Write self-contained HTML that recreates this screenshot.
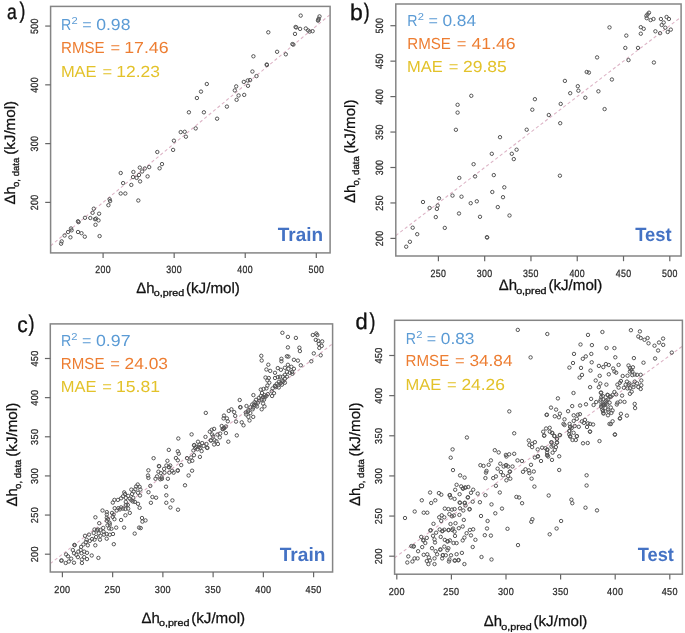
<!DOCTYPE html>
<html><head><meta charset="utf-8"><style>
html,body{margin:0;padding:0;background:#fff;overflow:hidden;}
svg{display:block;filter:blur(0.35px);}
</style></head><body>
<svg width="685" height="633" viewBox="0 0 685 633" font-family="'Liberation Sans', sans-serif" text-rendering="geometricPrecision">
<rect width="685" height="633" fill="#fff"/>
<g><clipPath id="cpa"><rect x="50.6" y="6.4" width="279.50" height="246.50"/></clipPath><line x1="50.6" y1="245.8" x2="330.1" y2="14.6" stroke="#ddb4c6" stroke-width="1.1" stroke-dasharray="3.2 2.5" clip-path="url(#cpa)"/><g fill="none" stroke="#555" stroke-width="1.0"><circle cx="61.1" cy="243.7" r="1.7"/><circle cx="61.7" cy="241.4" r="1.7"/><circle cx="64.6" cy="235.5" r="1.7"/><circle cx="68.1" cy="232.0" r="1.7"/><circle cx="71.0" cy="228.5" r="1.7"/><circle cx="71.6" cy="230.3" r="1.7"/><circle cx="70.4" cy="237.3" r="1.7"/><circle cx="78.0" cy="221.3" r="1.7"/><circle cx="78.6" cy="222.1" r="1.7"/><circle cx="78.0" cy="232.0" r="1.7"/><circle cx="81.5" cy="233.2" r="1.7"/><circle cx="84.8" cy="236.7" r="1.7"/><circle cx="85.0" cy="217.8" r="1.7"/><circle cx="90.3" cy="218.0" r="1.7"/><circle cx="92.6" cy="212.8" r="1.7"/><circle cx="93.8" cy="208.7" r="1.7"/><circle cx="95.0" cy="219.2" r="1.7"/><circle cx="96.1" cy="218.6" r="1.7"/><circle cx="98.5" cy="220.4" r="1.7"/><circle cx="99.1" cy="213.7" r="1.7"/><circle cx="95.5" cy="224.8" r="1.7"/><circle cx="99.6" cy="236.1" r="1.7"/><circle cx="108.4" cy="205.2" r="1.7"/><circle cx="109.6" cy="199.3" r="1.7"/><circle cx="110.1" cy="201.1" r="1.7"/><circle cx="120.7" cy="193.5" r="1.7"/><circle cx="125.3" cy="193.5" r="1.7"/><circle cx="123.1" cy="183.1" r="1.7"/><circle cx="120.7" cy="173.0" r="1.7"/><circle cx="131.3" cy="184.9" r="1.7"/><circle cx="133.4" cy="172.0" r="1.7"/><circle cx="133.0" cy="177.1" r="1.7"/><circle cx="136.6" cy="177.9" r="1.7"/><circle cx="139.0" cy="175.0" r="1.7"/><circle cx="140.1" cy="181.4" r="1.7"/><circle cx="139.8" cy="167.6" r="1.7"/><circle cx="142.1" cy="171.5" r="1.7"/><circle cx="144.8" cy="168.5" r="1.7"/><circle cx="147.6" cy="176.4" r="1.7"/><circle cx="149.2" cy="167.1" r="1.7"/><circle cx="157.3" cy="152.0" r="1.7"/><circle cx="159.6" cy="168.3" r="1.7"/><circle cx="162.0" cy="164.1" r="1.7"/><circle cx="173.1" cy="149.9" r="1.7"/><circle cx="173.9" cy="140.7" r="1.7"/><circle cx="180.7" cy="132.1" r="1.7"/><circle cx="184.7" cy="131.8" r="1.7"/><circle cx="185.9" cy="136.7" r="1.7"/><circle cx="138.3" cy="200.5" r="1.7"/><circle cx="195.7" cy="128.4" r="1.7"/><circle cx="188.9" cy="112.3" r="1.7"/><circle cx="203.9" cy="112.3" r="1.7"/><circle cx="196.9" cy="98.0" r="1.7"/><circle cx="201.0" cy="91.6" r="1.7"/><circle cx="206.8" cy="84.0" r="1.7"/><circle cx="217.1" cy="118.7" r="1.7"/><circle cx="226.9" cy="106.6" r="1.7"/><circle cx="236.6" cy="99.8" r="1.7"/><circle cx="238.6" cy="95.5" r="1.7"/><circle cx="244.2" cy="94.9" r="1.7"/><circle cx="234.8" cy="90.4" r="1.7"/><circle cx="236.2" cy="86.4" r="1.7"/><circle cx="243.8" cy="81.9" r="1.7"/><circle cx="248.0" cy="85.8" r="1.7"/><circle cx="247.7" cy="80.5" r="1.7"/><circle cx="250.1" cy="80.1" r="1.7"/><circle cx="256.5" cy="76.1" r="1.7"/><circle cx="252.4" cy="71.5" r="1.7"/><circle cx="253.4" cy="56.3" r="1.7"/><circle cx="266.7" cy="64.5" r="1.7"/><circle cx="266.9" cy="65.0" r="1.7"/><circle cx="277.1" cy="51.8" r="1.7"/><circle cx="285.8" cy="54.3" r="1.7"/><circle cx="292.4" cy="44.1" r="1.7"/><circle cx="293.4" cy="44.6" r="1.7"/><circle cx="295.0" cy="33.9" r="1.7"/><circle cx="295.6" cy="27.0" r="1.7"/><circle cx="296.3" cy="27.4" r="1.7"/><circle cx="300.1" cy="28.9" r="1.7"/><circle cx="305.8" cy="28.5" r="1.7"/><circle cx="308.1" cy="30.4" r="1.7"/><circle cx="309.6" cy="31.6" r="1.7"/><circle cx="312.6" cy="31.2" r="1.7"/><circle cx="300.7" cy="15.6" r="1.7"/><circle cx="319.5" cy="16.4" r="1.7"/><circle cx="318.3" cy="19.8" r="1.7"/><circle cx="318.7" cy="18.7" r="1.7"/><circle cx="318.0" cy="20.6" r="1.7"/><circle cx="268.3" cy="32.3" r="1.7"/></g><rect x="50.6" y="6.4" width="279.50" height="246.50" fill="none" stroke="#858585" stroke-width="1.5"/><line x1="103.10" y1="252.9" x2="103.10" y2="258.10" stroke="#666" stroke-width="1.2"/><text transform="translate(103.10,273.0) scale(0.84,1)" font-size="10.5" text-anchor="middle" letter-spacing="0.4" fill="#2a2a2a" stroke="#2a2a2a" stroke-width="0.25">200</text><line x1="174.17" y1="252.9" x2="174.17" y2="258.10" stroke="#666" stroke-width="1.2"/><text transform="translate(174.17,273.0) scale(0.84,1)" font-size="10.5" text-anchor="middle" letter-spacing="0.4" fill="#2a2a2a" stroke="#2a2a2a" stroke-width="0.25">300</text><line x1="245.23" y1="252.9" x2="245.23" y2="258.10" stroke="#666" stroke-width="1.2"/><text transform="translate(245.23,273.0) scale(0.84,1)" font-size="10.5" text-anchor="middle" letter-spacing="0.4" fill="#2a2a2a" stroke="#2a2a2a" stroke-width="0.25">400</text><line x1="316.30" y1="252.9" x2="316.30" y2="258.10" stroke="#666" stroke-width="1.2"/><text transform="translate(316.30,273.0) scale(0.84,1)" font-size="10.5" text-anchor="middle" letter-spacing="0.4" fill="#2a2a2a" stroke="#2a2a2a" stroke-width="0.25">500</text><line x1="45.20" y1="202.40" x2="50.6" y2="202.40" stroke="#666" stroke-width="1.2"/><text transform="translate(38.0,202.40) rotate(-90) scale(0.84,1)" font-size="10.5" text-anchor="middle" letter-spacing="0.4" fill="#2a2a2a" stroke="#2a2a2a" stroke-width="0.25">200</text><line x1="45.20" y1="143.62" x2="50.6" y2="143.62" stroke="#666" stroke-width="1.2"/><text transform="translate(38.0,143.62) rotate(-90) scale(0.84,1)" font-size="10.5" text-anchor="middle" letter-spacing="0.4" fill="#2a2a2a" stroke="#2a2a2a" stroke-width="0.25">300</text><line x1="45.20" y1="84.84" x2="50.6" y2="84.84" stroke="#666" stroke-width="1.2"/><text transform="translate(38.0,84.84) rotate(-90) scale(0.84,1)" font-size="10.5" text-anchor="middle" letter-spacing="0.4" fill="#2a2a2a" stroke="#2a2a2a" stroke-width="0.25">400</text><line x1="45.20" y1="26.06" x2="50.6" y2="26.06" stroke="#666" stroke-width="1.2"/><text transform="translate(38.0,26.06) rotate(-90) scale(0.84,1)" font-size="10.5" text-anchor="middle" letter-spacing="0.4" fill="#2a2a2a" stroke="#2a2a2a" stroke-width="0.25">500</text></g>
<g><clipPath id="cpb"><rect x="395.8" y="4.0" width="285.30" height="252.00"/></clipPath><line x1="395.8" y1="235.6" x2="681.1" y2="17.0" stroke="#ddb4c6" stroke-width="1.1" stroke-dasharray="3.2 2.5" clip-path="url(#cpb)"/><g fill="none" stroke="#555" stroke-width="1.0"><circle cx="406.2" cy="246.7" r="1.7"/><circle cx="409.9" cy="241.8" r="1.7"/><circle cx="412.7" cy="227.7" r="1.7"/><circle cx="417.2" cy="234.2" r="1.7"/><circle cx="423.0" cy="202.0" r="1.7"/><circle cx="429.6" cy="208.0" r="1.7"/><circle cx="435.8" cy="217.1" r="1.7"/><circle cx="436.9" cy="208.9" r="1.7"/><circle cx="437.7" cy="205.5" r="1.7"/><circle cx="439.0" cy="198.3" r="1.7"/><circle cx="444.8" cy="227.9" r="1.7"/><circle cx="452.5" cy="195.6" r="1.7"/><circle cx="459.3" cy="177.9" r="1.7"/><circle cx="459.0" cy="213.5" r="1.7"/><circle cx="461.5" cy="196.7" r="1.7"/><circle cx="470.7" cy="203.2" r="1.7"/><circle cx="473.6" cy="164.2" r="1.7"/><circle cx="475.1" cy="176.4" r="1.7"/><circle cx="476.8" cy="201.3" r="1.7"/><circle cx="480.0" cy="216.8" r="1.7"/><circle cx="491.8" cy="153.8" r="1.7"/><circle cx="500.0" cy="137.2" r="1.7"/><circle cx="493.8" cy="175.1" r="1.7"/><circle cx="492.3" cy="192.0" r="1.7"/><circle cx="504.3" cy="187.3" r="1.7"/><circle cx="503.0" cy="197.2" r="1.7"/><circle cx="497.8" cy="207.1" r="1.7"/><circle cx="509.5" cy="215.5" r="1.7"/><circle cx="486.9" cy="237.2" r="1.7"/><circle cx="487.2" cy="237.5" r="1.7"/><circle cx="511.8" cy="153.8" r="1.7"/><circle cx="516.6" cy="149.7" r="1.7"/><circle cx="513.8" cy="159.1" r="1.7"/><circle cx="526.7" cy="129.7" r="1.7"/><circle cx="532.3" cy="109.7" r="1.7"/><circle cx="534.9" cy="99.2" r="1.7"/><circle cx="548.8" cy="115.0" r="1.7"/><circle cx="560.2" cy="123.2" r="1.7"/><circle cx="560.7" cy="103.9" r="1.7"/><circle cx="564.9" cy="80.9" r="1.7"/><circle cx="570.2" cy="93.2" r="1.7"/><circle cx="577.8" cy="86.2" r="1.7"/><circle cx="578.4" cy="90.7" r="1.7"/><circle cx="585.3" cy="97.7" r="1.7"/><circle cx="586.7" cy="72.0" r="1.7"/><circle cx="588.9" cy="72.6" r="1.7"/><circle cx="598.4" cy="91.3" r="1.7"/><circle cx="597.1" cy="57.4" r="1.7"/><circle cx="611.9" cy="79.5" r="1.7"/><circle cx="609.5" cy="27.4" r="1.7"/><circle cx="625.3" cy="47.9" r="1.7"/><circle cx="626.3" cy="35.6" r="1.7"/><circle cx="628.5" cy="60.1" r="1.7"/><circle cx="638.0" cy="47.9" r="1.7"/><circle cx="640.8" cy="33.7" r="1.7"/><circle cx="640.8" cy="27.2" r="1.7"/><circle cx="643.7" cy="28.8" r="1.7"/><circle cx="653.9" cy="62.5" r="1.7"/><circle cx="646.4" cy="15.8" r="1.7"/><circle cx="647.6" cy="14.3" r="1.7"/><circle cx="649.0" cy="12.7" r="1.7"/><circle cx="646.7" cy="18.2" r="1.7"/><circle cx="650.6" cy="20.1" r="1.7"/><circle cx="653.5" cy="19.0" r="1.7"/><circle cx="655.4" cy="31.3" r="1.7"/><circle cx="660.1" cy="33.2" r="1.7"/><circle cx="660.9" cy="19.0" r="1.7"/><circle cx="661.7" cy="25.0" r="1.7"/><circle cx="663.7" cy="22.5" r="1.7"/><circle cx="665.3" cy="27.7" r="1.7"/><circle cx="666.6" cy="17.0" r="1.7"/><circle cx="668.9" cy="19.0" r="1.7"/><circle cx="667.7" cy="32.0" r="1.7"/><circle cx="670.8" cy="29.6" r="1.7"/><circle cx="471.3" cy="95.8" r="1.7"/><circle cx="457.6" cy="104.8" r="1.7"/><circle cx="457.6" cy="112.6" r="1.7"/><circle cx="455.9" cy="129.8" r="1.7"/><circle cx="559.9" cy="175.7" r="1.7"/><circle cx="604.6" cy="109.1" r="1.7"/></g><rect x="395.8" y="4.0" width="285.30" height="252.00" fill="none" stroke="#858585" stroke-width="1.5"/><line x1="438.40" y1="256.0" x2="438.40" y2="261.20" stroke="#666" stroke-width="1.2"/><text transform="translate(438.40,276.9) scale(0.84,1)" font-size="10.5" text-anchor="middle" letter-spacing="0.4" fill="#2a2a2a" stroke="#2a2a2a" stroke-width="0.25">250</text><line x1="484.68" y1="256.0" x2="484.68" y2="261.20" stroke="#666" stroke-width="1.2"/><text transform="translate(484.68,276.9) scale(0.84,1)" font-size="10.5" text-anchor="middle" letter-spacing="0.4" fill="#2a2a2a" stroke="#2a2a2a" stroke-width="0.25">300</text><line x1="530.96" y1="256.0" x2="530.96" y2="261.20" stroke="#666" stroke-width="1.2"/><text transform="translate(530.96,276.9) scale(0.84,1)" font-size="10.5" text-anchor="middle" letter-spacing="0.4" fill="#2a2a2a" stroke="#2a2a2a" stroke-width="0.25">350</text><line x1="577.24" y1="256.0" x2="577.24" y2="261.20" stroke="#666" stroke-width="1.2"/><text transform="translate(577.24,276.9) scale(0.84,1)" font-size="10.5" text-anchor="middle" letter-spacing="0.4" fill="#2a2a2a" stroke="#2a2a2a" stroke-width="0.25">400</text><line x1="623.52" y1="256.0" x2="623.52" y2="261.20" stroke="#666" stroke-width="1.2"/><text transform="translate(623.52,276.9) scale(0.84,1)" font-size="10.5" text-anchor="middle" letter-spacing="0.4" fill="#2a2a2a" stroke="#2a2a2a" stroke-width="0.25">450</text><line x1="669.80" y1="256.0" x2="669.80" y2="261.20" stroke="#666" stroke-width="1.2"/><text transform="translate(669.80,276.9) scale(0.84,1)" font-size="10.5" text-anchor="middle" letter-spacing="0.4" fill="#2a2a2a" stroke="#2a2a2a" stroke-width="0.25">500</text><line x1="390.40" y1="238.40" x2="395.8" y2="238.40" stroke="#666" stroke-width="1.2"/><text transform="translate(382.6,238.40) rotate(-90) scale(0.84,1)" font-size="10.5" text-anchor="middle" letter-spacing="0.4" fill="#2a2a2a" stroke="#2a2a2a" stroke-width="0.25">200</text><line x1="390.40" y1="202.95" x2="395.8" y2="202.95" stroke="#666" stroke-width="1.2"/><text transform="translate(382.6,202.95) rotate(-90) scale(0.84,1)" font-size="10.5" text-anchor="middle" letter-spacing="0.4" fill="#2a2a2a" stroke="#2a2a2a" stroke-width="0.25">250</text><line x1="390.40" y1="167.50" x2="395.8" y2="167.50" stroke="#666" stroke-width="1.2"/><text transform="translate(382.6,167.50) rotate(-90) scale(0.84,1)" font-size="10.5" text-anchor="middle" letter-spacing="0.4" fill="#2a2a2a" stroke="#2a2a2a" stroke-width="0.25">300</text><line x1="390.40" y1="132.05" x2="395.8" y2="132.05" stroke="#666" stroke-width="1.2"/><text transform="translate(382.6,132.05) rotate(-90) scale(0.84,1)" font-size="10.5" text-anchor="middle" letter-spacing="0.4" fill="#2a2a2a" stroke="#2a2a2a" stroke-width="0.25">350</text><line x1="390.40" y1="96.60" x2="395.8" y2="96.60" stroke="#666" stroke-width="1.2"/><text transform="translate(382.6,96.60) rotate(-90) scale(0.84,1)" font-size="10.5" text-anchor="middle" letter-spacing="0.4" fill="#2a2a2a" stroke="#2a2a2a" stroke-width="0.25">400</text><line x1="390.40" y1="61.15" x2="395.8" y2="61.15" stroke="#666" stroke-width="1.2"/><text transform="translate(382.6,61.15) rotate(-90) scale(0.84,1)" font-size="10.5" text-anchor="middle" letter-spacing="0.4" fill="#2a2a2a" stroke="#2a2a2a" stroke-width="0.25">450</text><line x1="390.40" y1="25.70" x2="395.8" y2="25.70" stroke="#666" stroke-width="1.2"/><text transform="translate(382.6,25.70) rotate(-90) scale(0.84,1)" font-size="10.5" text-anchor="middle" letter-spacing="0.4" fill="#2a2a2a" stroke="#2a2a2a" stroke-width="0.25">500</text></g>
<g><clipPath id="cpc"><rect x="50.3" y="323.9" width="282.30" height="248.10"/></clipPath><line x1="50.3" y1="563.6" x2="332.6" y2="343.7" stroke="#ddb4c6" stroke-width="1.1" stroke-dasharray="3.2 2.5" clip-path="url(#cpc)"/><g fill="none" stroke="#555" stroke-width="1.0"><circle cx="61.3" cy="560.7" r="1.7"/><circle cx="61.6" cy="560.4" r="1.7"/><circle cx="65.7" cy="563.0" r="1.7"/><circle cx="66.1" cy="554.4" r="1.7"/><circle cx="68.0" cy="556.3" r="1.7"/><circle cx="68.8" cy="561.5" r="1.7"/><circle cx="71.2" cy="558.7" r="1.7"/><circle cx="74.0" cy="562.7" r="1.7"/><circle cx="72.8" cy="550.0" r="1.7"/><circle cx="74.4" cy="544.9" r="1.7"/><circle cx="74.7" cy="545.2" r="1.7"/><circle cx="74.0" cy="553.2" r="1.7"/><circle cx="76.3" cy="554.8" r="1.7"/><circle cx="77.9" cy="557.1" r="1.7"/><circle cx="78.3" cy="551.6" r="1.7"/><circle cx="80.7" cy="550.0" r="1.7"/><circle cx="81.5" cy="553.2" r="1.7"/><circle cx="81.1" cy="546.9" r="1.7"/><circle cx="81.9" cy="559.5" r="1.7"/><circle cx="81.9" cy="563.0" r="1.7"/><circle cx="84.2" cy="557.1" r="1.7"/><circle cx="84.2" cy="551.6" r="1.7"/><circle cx="87.0" cy="559.1" r="1.7"/><circle cx="87.0" cy="552.8" r="1.7"/><circle cx="83.4" cy="544.5" r="1.7"/><circle cx="85.8" cy="542.1" r="1.7"/><circle cx="85.0" cy="535.8" r="1.7"/><circle cx="86.6" cy="539.7" r="1.7"/><circle cx="87.8" cy="545.3" r="1.7"/><circle cx="89.8" cy="540.9" r="1.7"/><circle cx="89.0" cy="534.6" r="1.7"/><circle cx="91.7" cy="555.5" r="1.7"/><circle cx="92.1" cy="539.0" r="1.7"/><circle cx="93.7" cy="533.0" r="1.7"/><circle cx="94.5" cy="539.7" r="1.7"/><circle cx="95.3" cy="545.3" r="1.7"/><circle cx="96.1" cy="537.0" r="1.7"/><circle cx="96.9" cy="530.3" r="1.7"/><circle cx="98.0" cy="529.5" r="1.7"/><circle cx="99.2" cy="523.2" r="1.7"/><circle cx="98.4" cy="557.9" r="1.7"/><circle cx="100.0" cy="539.7" r="1.7"/><circle cx="100.4" cy="535.8" r="1.7"/><circle cx="100.4" cy="529.9" r="1.7"/><circle cx="103.2" cy="527.9" r="1.7"/><circle cx="103.6" cy="531.8" r="1.7"/><circle cx="104.0" cy="534.6" r="1.7"/><circle cx="94.5" cy="529.5" r="1.7"/><circle cx="98.8" cy="533.4" r="1.7"/><circle cx="95.4" cy="517.3" r="1.7"/><circle cx="102.5" cy="510.5" r="1.7"/><circle cx="106.8" cy="512.1" r="1.7"/><circle cx="106.8" cy="514.5" r="1.7"/><circle cx="106.8" cy="517.7" r="1.7"/><circle cx="108.0" cy="519.2" r="1.7"/><circle cx="106.8" cy="520.8" r="1.7"/><circle cx="109.6" cy="522.8" r="1.7"/><circle cx="112.0" cy="512.9" r="1.7"/><circle cx="113.6" cy="514.5" r="1.7"/><circle cx="112.8" cy="516.9" r="1.7"/><circle cx="114.4" cy="519.2" r="1.7"/><circle cx="114.7" cy="508.2" r="1.7"/><circle cx="116.7" cy="510.5" r="1.7"/><circle cx="118.3" cy="508.2" r="1.7"/><circle cx="119.9" cy="509.4" r="1.7"/><circle cx="121.1" cy="507.4" r="1.7"/><circle cx="123.0" cy="508.6" r="1.7"/><circle cx="125.4" cy="509.0" r="1.7"/><circle cx="128.2" cy="508.6" r="1.7"/><circle cx="121.1" cy="520.0" r="1.7"/><circle cx="125.4" cy="515.3" r="1.7"/><circle cx="129.8" cy="512.9" r="1.7"/><circle cx="125.8" cy="505.0" r="1.7"/><circle cx="127.8" cy="505.0" r="1.7"/><circle cx="125.8" cy="501.9" r="1.7"/><circle cx="112.8" cy="502.6" r="1.7"/><circle cx="114.4" cy="499.9" r="1.7"/><circle cx="117.9" cy="499.9" r="1.7"/><circle cx="121.1" cy="498.3" r="1.7"/><circle cx="123.0" cy="496.3" r="1.7"/><circle cx="124.2" cy="492.4" r="1.7"/><circle cx="125.0" cy="494.0" r="1.7"/><circle cx="125.8" cy="497.9" r="1.7"/><circle cx="128.2" cy="495.9" r="1.7"/><circle cx="129.8" cy="498.7" r="1.7"/><circle cx="131.3" cy="500.3" r="1.7"/><circle cx="132.9" cy="501.5" r="1.7"/><circle cx="134.9" cy="501.9" r="1.7"/><circle cx="138.0" cy="503.8" r="1.7"/><circle cx="139.6" cy="507.8" r="1.7"/><circle cx="133.3" cy="497.9" r="1.7"/><circle cx="132.1" cy="494.0" r="1.7"/><circle cx="133.7" cy="491.6" r="1.7"/><circle cx="135.3" cy="489.2" r="1.7"/><circle cx="131.3" cy="489.6" r="1.7"/><circle cx="136.1" cy="486.5" r="1.7"/><circle cx="137.7" cy="484.5" r="1.7"/><circle cx="139.6" cy="486.8" r="1.7"/><circle cx="140.4" cy="489.6" r="1.7"/><circle cx="138.0" cy="492.8" r="1.7"/><circle cx="140.0" cy="495.5" r="1.7"/><circle cx="142.0" cy="518.0" r="1.7"/><circle cx="142.4" cy="521.6" r="1.7"/><circle cx="150.3" cy="485.9" r="1.7"/><circle cx="166.0" cy="486.7" r="1.7"/><circle cx="148.4" cy="470.3" r="1.7"/><circle cx="148.0" cy="475.5" r="1.7"/><circle cx="148.4" cy="477.9" r="1.7"/><circle cx="153.6" cy="458.2" r="1.7"/><circle cx="155.5" cy="478.8" r="1.7"/><circle cx="157.0" cy="476.4" r="1.7"/><circle cx="158.9" cy="466.0" r="1.7"/><circle cx="159.2" cy="466.3" r="1.7"/><circle cx="158.4" cy="471.7" r="1.7"/><circle cx="160.3" cy="479.3" r="1.7"/><circle cx="161.7" cy="477.4" r="1.7"/><circle cx="160.8" cy="473.1" r="1.7"/><circle cx="164.1" cy="468.9" r="1.7"/><circle cx="164.5" cy="472.7" r="1.7"/><circle cx="166.4" cy="465.5" r="1.7"/><circle cx="167.4" cy="460.8" r="1.7"/><circle cx="167.9" cy="478.8" r="1.7"/><circle cx="168.8" cy="467.0" r="1.7"/><circle cx="169.1" cy="467.3" r="1.7"/><circle cx="170.2" cy="465.5" r="1.7"/><circle cx="169.3" cy="472.7" r="1.7"/><circle cx="172.1" cy="470.8" r="1.7"/><circle cx="173.6" cy="472.7" r="1.7"/><circle cx="168.8" cy="449.9" r="1.7"/><circle cx="177.8" cy="470.3" r="1.7"/><circle cx="175.9" cy="458.0" r="1.7"/><circle cx="177.8" cy="460.3" r="1.7"/><circle cx="177.8" cy="451.3" r="1.7"/><circle cx="178.8" cy="453.7" r="1.7"/><circle cx="178.3" cy="438.5" r="1.7"/><circle cx="191.6" cy="434.4" r="1.7"/><circle cx="205.8" cy="412.9" r="1.7"/><circle cx="205.5" cy="436.9" r="1.7"/><circle cx="194.2" cy="445.0" r="1.7"/><circle cx="196.1" cy="446.9" r="1.7"/><circle cx="198.0" cy="441.7" r="1.7"/><circle cx="199.4" cy="445.0" r="1.7"/><circle cx="200.3" cy="447.8" r="1.7"/><circle cx="202.2" cy="443.1" r="1.7"/><circle cx="203.6" cy="445.9" r="1.7"/><circle cx="206.5" cy="444.0" r="1.7"/><circle cx="207.0" cy="447.8" r="1.7"/><circle cx="209.8" cy="431.7" r="1.7"/><circle cx="211.7" cy="429.8" r="1.7"/><circle cx="214.1" cy="428.9" r="1.7"/><circle cx="212.2" cy="434.5" r="1.7"/><circle cx="210.8" cy="440.2" r="1.7"/><circle cx="213.1" cy="436.4" r="1.7"/><circle cx="214.5" cy="440.2" r="1.7"/><circle cx="216.4" cy="441.2" r="1.7"/><circle cx="214.1" cy="444.5" r="1.7"/><circle cx="217.9" cy="444.0" r="1.7"/><circle cx="217.4" cy="434.5" r="1.7"/><circle cx="219.8" cy="437.4" r="1.7"/><circle cx="220.2" cy="433.6" r="1.7"/><circle cx="221.7" cy="426.0" r="1.7"/><circle cx="222.6" cy="428.9" r="1.7"/><circle cx="222.9" cy="429.2" r="1.7"/><circle cx="224.0" cy="427.9" r="1.7"/><circle cx="224.3" cy="428.2" r="1.7"/><circle cx="225.9" cy="426.5" r="1.7"/><circle cx="225.9" cy="433.1" r="1.7"/><circle cx="223.6" cy="418.4" r="1.7"/><circle cx="224.0" cy="415.6" r="1.7"/><circle cx="226.9" cy="418.4" r="1.7"/><circle cx="227.8" cy="421.3" r="1.7"/><circle cx="228.8" cy="410.9" r="1.7"/><circle cx="228.3" cy="441.7" r="1.7"/><circle cx="231.4" cy="409.3" r="1.7"/><circle cx="234.2" cy="412.1" r="1.7"/><circle cx="235.2" cy="415.9" r="1.7"/><circle cx="239.7" cy="400.0" r="1.7"/><circle cx="240.2" cy="407.1" r="1.7"/><circle cx="240.5" cy="407.4" r="1.7"/><circle cx="246.5" cy="406.0" r="1.7"/><circle cx="246.1" cy="414.5" r="1.7"/><circle cx="248.4" cy="410.2" r="1.7"/><circle cx="248.4" cy="416.9" r="1.7"/><circle cx="250.3" cy="413.1" r="1.7"/><circle cx="250.3" cy="407.4" r="1.7"/><circle cx="252.2" cy="404.5" r="1.7"/><circle cx="253.2" cy="416.9" r="1.7"/><circle cx="252.7" cy="409.3" r="1.7"/><circle cx="254.6" cy="402.2" r="1.7"/><circle cx="256.0" cy="399.8" r="1.7"/><circle cx="257.9" cy="402.7" r="1.7"/><circle cx="258.9" cy="397.9" r="1.7"/><circle cx="260.8" cy="396.0" r="1.7"/><circle cx="261.7" cy="399.8" r="1.7"/><circle cx="263.1" cy="397.0" r="1.7"/><circle cx="264.5" cy="395.1" r="1.7"/><circle cx="266.4" cy="396.0" r="1.7"/><circle cx="267.9" cy="394.1" r="1.7"/><circle cx="263.1" cy="403.6" r="1.7"/><circle cx="264.5" cy="406.4" r="1.7"/><circle cx="261.7" cy="409.3" r="1.7"/><circle cx="253.4" cy="395.1" r="1.7"/><circle cx="260.8" cy="389.6" r="1.7"/><circle cx="263.6" cy="388.9" r="1.7"/><circle cx="266.4" cy="388.4" r="1.7"/><circle cx="267.4" cy="385.6" r="1.7"/><circle cx="269.3" cy="382.7" r="1.7"/><circle cx="267.4" cy="380.4" r="1.7"/><circle cx="265.5" cy="377.5" r="1.7"/><circle cx="268.8" cy="378.0" r="1.7"/><circle cx="272.6" cy="388.4" r="1.7"/><circle cx="272.1" cy="396.0" r="1.7"/><circle cx="274.0" cy="393.2" r="1.7"/><circle cx="271.7" cy="391.3" r="1.7"/><circle cx="275.0" cy="386.1" r="1.7"/><circle cx="276.9" cy="383.7" r="1.7"/><circle cx="278.8" cy="387.5" r="1.7"/><circle cx="275.0" cy="378.0" r="1.7"/><circle cx="277.8" cy="377.1" r="1.7"/><circle cx="266.4" cy="369.5" r="1.7"/><circle cx="270.2" cy="370.9" r="1.7"/><circle cx="268.3" cy="364.7" r="1.7"/><circle cx="275.0" cy="372.8" r="1.7"/><circle cx="277.8" cy="368.1" r="1.7"/><circle cx="261.7" cy="360.5" r="1.7"/><circle cx="255.5" cy="405.5" r="1.7"/><circle cx="259.5" cy="400.5" r="1.7"/><circle cx="262.0" cy="393.0" r="1.7"/><circle cx="257.0" cy="406.5" r="1.7"/><circle cx="282.4" cy="332.8" r="1.7"/><circle cx="287.9" cy="336.9" r="1.7"/><circle cx="295.9" cy="337.9" r="1.7"/><circle cx="287.9" cy="347.4" r="1.7"/><circle cx="299.4" cy="347.7" r="1.7"/><circle cx="299.9" cy="351.1" r="1.7"/><circle cx="286.9" cy="356.3" r="1.7"/><circle cx="288.4" cy="356.6" r="1.7"/><circle cx="281.4" cy="358.8" r="1.7"/><circle cx="281.4" cy="361.3" r="1.7"/><circle cx="293.9" cy="359.8" r="1.7"/><circle cx="297.9" cy="360.6" r="1.7"/><circle cx="300.8" cy="365.3" r="1.7"/><circle cx="311.3" cy="361.3" r="1.7"/><circle cx="313.8" cy="353.4" r="1.7"/><circle cx="320.7" cy="355.3" r="1.7"/><circle cx="312.8" cy="335.0" r="1.7"/><circle cx="316.3" cy="333.5" r="1.7"/><circle cx="317.3" cy="335.0" r="1.7"/><circle cx="315.8" cy="339.9" r="1.7"/><circle cx="318.3" cy="340.9" r="1.7"/><circle cx="322.2" cy="341.4" r="1.7"/><circle cx="318.8" cy="343.9" r="1.7"/><circle cx="321.7" cy="345.9" r="1.7"/><circle cx="319.3" cy="347.9" r="1.7"/><circle cx="280.9" cy="369.8" r="1.7"/><circle cx="284.9" cy="367.8" r="1.7"/><circle cx="287.9" cy="364.8" r="1.7"/><circle cx="288.4" cy="368.8" r="1.7"/><circle cx="291.4" cy="366.8" r="1.7"/><circle cx="293.9" cy="368.8" r="1.7"/><circle cx="286.9" cy="371.8" r="1.7"/><circle cx="289.9" cy="372.8" r="1.7"/><circle cx="292.4" cy="373.8" r="1.7"/><circle cx="284.9" cy="374.8" r="1.7"/><circle cx="286.9" cy="376.7" r="1.7"/><circle cx="282.9" cy="376.7" r="1.7"/><circle cx="280.0" cy="376.7" r="1.7"/><circle cx="284.9" cy="378.7" r="1.7"/><circle cx="281.9" cy="380.7" r="1.7"/><circle cx="279.0" cy="381.7" r="1.7"/><circle cx="275.0" cy="385.7" r="1.7"/><circle cx="284.9" cy="382.7" r="1.7"/><circle cx="281.9" cy="384.7" r="1.7"/><circle cx="148.5" cy="492.2" r="1.7"/><circle cx="152.4" cy="497.0" r="1.7"/><circle cx="156.1" cy="497.7" r="1.7"/><circle cx="150.9" cy="502.8" r="1.7"/><circle cx="166.3" cy="495.3" r="1.7"/><circle cx="166.3" cy="502.8" r="1.7"/><circle cx="172.4" cy="500.4" r="1.7"/><circle cx="170.4" cy="507.5" r="1.7"/><circle cx="178.0" cy="509.7" r="1.7"/><circle cx="185.0" cy="485.3" r="1.7"/><circle cx="188.6" cy="475.5" r="1.7"/><circle cx="192.1" cy="470.7" r="1.7"/><circle cx="145.5" cy="520.4" r="1.7"/><circle cx="140.7" cy="528.1" r="1.7"/><circle cx="161.9" cy="478.8" r="1.7"/><circle cx="177.7" cy="470.7" r="1.7"/><circle cx="181.2" cy="465.1" r="1.7"/><circle cx="187.0" cy="458.1" r="1.7"/><circle cx="189.3" cy="461.6" r="1.7"/><circle cx="192.3" cy="460.8" r="1.7"/><circle cx="191.1" cy="457.5" r="1.7"/><circle cx="194.0" cy="455.2" r="1.7"/><circle cx="199.9" cy="456.9" r="1.7"/><circle cx="193.4" cy="450.5" r="1.7"/><circle cx="195.2" cy="448.2" r="1.7"/><circle cx="197.5" cy="449.3" r="1.7"/><circle cx="198.7" cy="447.0" r="1.7"/><circle cx="194.0" cy="445.3" r="1.7"/><circle cx="201.6" cy="451.1" r="1.7"/><circle cx="207.4" cy="447.9" r="1.7"/><circle cx="210.9" cy="440.6" r="1.7"/><circle cx="236.8" cy="435.4" r="1.7"/><circle cx="241.7" cy="422.3" r="1.7"/><circle cx="243.5" cy="425.3" r="1.7"/><circle cx="236.0" cy="421.6" r="1.7"/><circle cx="249.5" cy="420.5" r="1.7"/><circle cx="245.8" cy="412.4" r="1.7"/><circle cx="248.0" cy="411.6" r="1.7"/><circle cx="253.2" cy="407.5" r="1.7"/><circle cx="254.0" cy="405.0" r="1.7"/><circle cx="255.6" cy="403.4" r="1.7"/><circle cx="264.0" cy="399.7" r="1.7"/><circle cx="264.9" cy="397.3" r="1.7"/><circle cx="261.3" cy="355.8" r="1.7"/><circle cx="275.7" cy="387.2" r="1.7"/><circle cx="278.3" cy="385.2" r="1.7"/><circle cx="280.7" cy="383.2" r="1.7"/><circle cx="283.3" cy="381.3" r="1.7"/><circle cx="292.1" cy="371.9" r="1.7"/><circle cx="107.5" cy="525.3" r="1.7"/><circle cx="109.8" cy="524.5" r="1.7"/><circle cx="109.1" cy="528.4" r="1.7"/><circle cx="111.4" cy="528.8" r="1.7"/><circle cx="106.7" cy="534.0" r="1.7"/><circle cx="109.8" cy="534.7" r="1.7"/><circle cx="113.0" cy="534.0" r="1.7"/><circle cx="106.7" cy="538.7" r="1.7"/><circle cx="113.8" cy="544.2" r="1.7"/><circle cx="116.2" cy="527.6" r="1.7"/><circle cx="124.1" cy="527.6" r="1.7"/><circle cx="134.7" cy="533.6" r="1.7"/><circle cx="139.1" cy="527.6" r="1.7"/></g><rect x="50.3" y="323.9" width="282.30" height="248.10" fill="none" stroke="#858585" stroke-width="1.5"/><line x1="62.40" y1="572.0" x2="62.40" y2="577.20" stroke="#666" stroke-width="1.2"/><text transform="translate(62.40,593.0) scale(0.9,1)" font-size="10.1" text-anchor="middle" letter-spacing="0.4" fill="#2a2a2a" stroke="#2a2a2a" stroke-width="0.25">200</text><line x1="112.64" y1="572.0" x2="112.64" y2="577.20" stroke="#666" stroke-width="1.2"/><text transform="translate(112.64,593.0) scale(0.9,1)" font-size="10.1" text-anchor="middle" letter-spacing="0.4" fill="#2a2a2a" stroke="#2a2a2a" stroke-width="0.25">250</text><line x1="162.88" y1="572.0" x2="162.88" y2="577.20" stroke="#666" stroke-width="1.2"/><text transform="translate(162.88,593.0) scale(0.9,1)" font-size="10.1" text-anchor="middle" letter-spacing="0.4" fill="#2a2a2a" stroke="#2a2a2a" stroke-width="0.25">300</text><line x1="213.12" y1="572.0" x2="213.12" y2="577.20" stroke="#666" stroke-width="1.2"/><text transform="translate(213.12,593.0) scale(0.9,1)" font-size="10.1" text-anchor="middle" letter-spacing="0.4" fill="#2a2a2a" stroke="#2a2a2a" stroke-width="0.25">350</text><line x1="263.36" y1="572.0" x2="263.36" y2="577.20" stroke="#666" stroke-width="1.2"/><text transform="translate(263.36,593.0) scale(0.9,1)" font-size="10.1" text-anchor="middle" letter-spacing="0.4" fill="#2a2a2a" stroke="#2a2a2a" stroke-width="0.25">400</text><line x1="313.60" y1="572.0" x2="313.60" y2="577.20" stroke="#666" stroke-width="1.2"/><text transform="translate(313.60,593.0) scale(0.9,1)" font-size="10.1" text-anchor="middle" letter-spacing="0.4" fill="#2a2a2a" stroke="#2a2a2a" stroke-width="0.25">450</text><line x1="44.90" y1="554.20" x2="50.3" y2="554.20" stroke="#666" stroke-width="1.2"/><text transform="translate(37.9,554.20) rotate(-90) scale(0.9,1)" font-size="10.1" text-anchor="middle" letter-spacing="0.4" fill="#2a2a2a" stroke="#2a2a2a" stroke-width="0.25">200</text><line x1="44.90" y1="515.06" x2="50.3" y2="515.06" stroke="#666" stroke-width="1.2"/><text transform="translate(37.9,515.06) rotate(-90) scale(0.9,1)" font-size="10.1" text-anchor="middle" letter-spacing="0.4" fill="#2a2a2a" stroke="#2a2a2a" stroke-width="0.25">250</text><line x1="44.90" y1="475.92" x2="50.3" y2="475.92" stroke="#666" stroke-width="1.2"/><text transform="translate(37.9,475.92) rotate(-90) scale(0.9,1)" font-size="10.1" text-anchor="middle" letter-spacing="0.4" fill="#2a2a2a" stroke="#2a2a2a" stroke-width="0.25">300</text><line x1="44.90" y1="436.78" x2="50.3" y2="436.78" stroke="#666" stroke-width="1.2"/><text transform="translate(37.9,436.78) rotate(-90) scale(0.9,1)" font-size="10.1" text-anchor="middle" letter-spacing="0.4" fill="#2a2a2a" stroke="#2a2a2a" stroke-width="0.25">350</text><line x1="44.90" y1="397.64" x2="50.3" y2="397.64" stroke="#666" stroke-width="1.2"/><text transform="translate(37.9,397.64) rotate(-90) scale(0.9,1)" font-size="10.1" text-anchor="middle" letter-spacing="0.4" fill="#2a2a2a" stroke="#2a2a2a" stroke-width="0.25">400</text><line x1="44.90" y1="358.50" x2="50.3" y2="358.50" stroke="#666" stroke-width="1.2"/><text transform="translate(37.9,358.50) rotate(-90) scale(0.9,1)" font-size="10.1" text-anchor="middle" letter-spacing="0.4" fill="#2a2a2a" stroke="#2a2a2a" stroke-width="0.25">450</text></g>
<g><clipPath id="cpd"><rect x="394.6" y="320.3" width="287.80" height="253.90"/></clipPath><line x1="394.6" y1="557.8" x2="682.4" y2="346.2" stroke="#ddb4c6" stroke-width="1.1" stroke-dasharray="3.2 2.5" clip-path="url(#cpd)"/><g fill="none" stroke="#555" stroke-width="1.0"><circle cx="405.0" cy="518.0" r="1.7"/><circle cx="414.7" cy="511.5" r="1.7"/><circle cx="423.7" cy="512.7" r="1.7"/><circle cx="427.3" cy="512.7" r="1.7"/><circle cx="444.8" cy="508.6" r="1.7"/><circle cx="448.4" cy="509.1" r="1.7"/><circle cx="452.0" cy="509.6" r="1.7"/><circle cx="454.6" cy="509.1" r="1.7"/><circle cx="439.2" cy="517.3" r="1.7"/><circle cx="441.7" cy="515.3" r="1.7"/><circle cx="444.3" cy="517.3" r="1.7"/><circle cx="441.2" cy="520.9" r="1.7"/><circle cx="449.4" cy="514.2" r="1.7"/><circle cx="452.0" cy="516.3" r="1.7"/><circle cx="433.5" cy="523.8" r="1.7"/><circle cx="430.4" cy="530.5" r="1.7"/><circle cx="430.7" cy="530.2" r="1.7"/><circle cx="439.7" cy="529.5" r="1.7"/><circle cx="442.2" cy="531.2" r="1.7"/><circle cx="442.5" cy="530.9" r="1.7"/><circle cx="444.3" cy="529.7" r="1.7"/><circle cx="448.4" cy="530.2" r="1.7"/><circle cx="448.7" cy="529.9" r="1.7"/><circle cx="450.5" cy="524.0" r="1.7"/><circle cx="453.0" cy="528.6" r="1.7"/><circle cx="454.6" cy="531.7" r="1.7"/><circle cx="436.1" cy="532.7" r="1.7"/><circle cx="433.0" cy="535.8" r="1.7"/><circle cx="426.8" cy="537.9" r="1.7"/><circle cx="421.2" cy="536.9" r="1.7"/><circle cx="423.2" cy="540.4" r="1.7"/><circle cx="423.5" cy="540.1" r="1.7"/><circle cx="425.3" cy="543.0" r="1.7"/><circle cx="434.5" cy="539.4" r="1.7"/><circle cx="435.0" cy="542.5" r="1.7"/><circle cx="440.7" cy="536.9" r="1.7"/><circle cx="444.8" cy="539.9" r="1.7"/><circle cx="447.4" cy="541.5" r="1.7"/><circle cx="447.7" cy="541.2" r="1.7"/><circle cx="449.9" cy="540.4" r="1.7"/><circle cx="453.5" cy="543.0" r="1.7"/><circle cx="411.4" cy="546.1" r="1.7"/><circle cx="413.5" cy="546.6" r="1.7"/><circle cx="413.8" cy="546.3" r="1.7"/><circle cx="422.2" cy="547.1" r="1.7"/><circle cx="418.1" cy="551.2" r="1.7"/><circle cx="432.0" cy="548.2" r="1.7"/><circle cx="435.6" cy="551.2" r="1.7"/><circle cx="440.2" cy="549.7" r="1.7"/><circle cx="440.5" cy="549.4" r="1.7"/><circle cx="444.3" cy="546.6" r="1.7"/><circle cx="448.4" cy="548.2" r="1.7"/><circle cx="447.4" cy="550.2" r="1.7"/><circle cx="437.1" cy="554.3" r="1.7"/><circle cx="408.3" cy="556.4" r="1.7"/><circle cx="414.5" cy="558.4" r="1.7"/><circle cx="417.6" cy="558.4" r="1.7"/><circle cx="412.4" cy="561.5" r="1.7"/><circle cx="407.3" cy="562.5" r="1.7"/><circle cx="423.7" cy="554.8" r="1.7"/><circle cx="427.3" cy="554.3" r="1.7"/><circle cx="428.9" cy="557.4" r="1.7"/><circle cx="426.8" cy="561.0" r="1.7"/><circle cx="429.9" cy="560.5" r="1.7"/><circle cx="428.4" cy="564.1" r="1.7"/><circle cx="434.5" cy="558.4" r="1.7"/><circle cx="434.5" cy="564.1" r="1.7"/><circle cx="442.7" cy="555.3" r="1.7"/><circle cx="443.0" cy="555.0" r="1.7"/><circle cx="442.2" cy="558.4" r="1.7"/><circle cx="445.8" cy="555.3" r="1.7"/><circle cx="451.0" cy="555.3" r="1.7"/><circle cx="449.4" cy="559.5" r="1.7"/><circle cx="448.9" cy="561.5" r="1.7"/><circle cx="454.6" cy="560.5" r="1.7"/><circle cx="460.0" cy="502.8" r="1.7"/><circle cx="464.9" cy="502.8" r="1.7"/><circle cx="465.5" cy="505.5" r="1.7"/><circle cx="472.7" cy="501.7" r="1.7"/><circle cx="479.9" cy="502.2" r="1.7"/><circle cx="491.5" cy="504.4" r="1.7"/><circle cx="502.0" cy="508.6" r="1.7"/><circle cx="495.3" cy="513.3" r="1.7"/><circle cx="460.0" cy="508.3" r="1.7"/><circle cx="463.3" cy="510.5" r="1.7"/><circle cx="469.4" cy="509.4" r="1.7"/><circle cx="469.7" cy="509.1" r="1.7"/><circle cx="459.4" cy="514.9" r="1.7"/><circle cx="453.9" cy="515.5" r="1.7"/><circle cx="481.0" cy="516.0" r="1.7"/><circle cx="463.8" cy="519.9" r="1.7"/><circle cx="487.6" cy="521.0" r="1.7"/><circle cx="455.5" cy="523.2" r="1.7"/><circle cx="452.2" cy="529.9" r="1.7"/><circle cx="458.8" cy="528.2" r="1.7"/><circle cx="462.7" cy="526.5" r="1.7"/><circle cx="469.9" cy="529.9" r="1.7"/><circle cx="473.2" cy="529.3" r="1.7"/><circle cx="487.0" cy="528.5" r="1.7"/><circle cx="507.5" cy="528.8" r="1.7"/><circle cx="466.6" cy="533.2" r="1.7"/><circle cx="471.0" cy="535.4" r="1.7"/><circle cx="464.4" cy="537.6" r="1.7"/><circle cx="455.0" cy="535.9" r="1.7"/><circle cx="484.8" cy="535.2" r="1.7"/><circle cx="490.9" cy="535.6" r="1.7"/><circle cx="462.7" cy="540.4" r="1.7"/><circle cx="475.4" cy="539.8" r="1.7"/><circle cx="456.6" cy="543.1" r="1.7"/><circle cx="472.7" cy="547.0" r="1.7"/><circle cx="518.0" cy="545.1" r="1.7"/><circle cx="456.6" cy="554.2" r="1.7"/><circle cx="461.9" cy="552.9" r="1.7"/><circle cx="481.5" cy="557.0" r="1.7"/><circle cx="491.5" cy="559.5" r="1.7"/><circle cx="455.0" cy="560.6" r="1.7"/><circle cx="458.3" cy="560.3" r="1.7"/><circle cx="458.6" cy="560.0" r="1.7"/><circle cx="464.4" cy="564.1" r="1.7"/><circle cx="452.6" cy="449.4" r="1.7"/><circle cx="450.7" cy="457.7" r="1.7"/><circle cx="453.0" cy="470.1" r="1.7"/><circle cx="460.1" cy="475.4" r="1.7"/><circle cx="464.6" cy="477.6" r="1.7"/><circle cx="456.6" cy="484.8" r="1.7"/><circle cx="461.2" cy="486.4" r="1.7"/><circle cx="462.9" cy="488.7" r="1.7"/><circle cx="463.2" cy="488.4" r="1.7"/><circle cx="465.1" cy="487.6" r="1.7"/><circle cx="455.2" cy="489.8" r="1.7"/><circle cx="459.6" cy="494.2" r="1.7"/><circle cx="430.1" cy="492.5" r="1.7"/><circle cx="438.9" cy="493.1" r="1.7"/><circle cx="441.3" cy="494.7" r="1.7"/><circle cx="449.6" cy="495.3" r="1.7"/><circle cx="449.9" cy="495.0" r="1.7"/><circle cx="450.7" cy="497.5" r="1.7"/><circle cx="454.6" cy="498.9" r="1.7"/><circle cx="421.8" cy="500.3" r="1.7"/><circle cx="435.3" cy="500.3" r="1.7"/><circle cx="431.2" cy="503.0" r="1.7"/><circle cx="459.6" cy="502.5" r="1.7"/><circle cx="464.6" cy="503.0" r="1.7"/><circle cx="466.9" cy="437.5" r="1.7"/><circle cx="514.2" cy="433.3" r="1.7"/><circle cx="494.8" cy="450.2" r="1.7"/><circle cx="498.7" cy="452.4" r="1.7"/><circle cx="505.9" cy="454.9" r="1.7"/><circle cx="506.4" cy="456.5" r="1.7"/><circle cx="509.2" cy="454.3" r="1.7"/><circle cx="514.2" cy="453.8" r="1.7"/><circle cx="517.5" cy="460.4" r="1.7"/><circle cx="521.9" cy="461.0" r="1.7"/><circle cx="490.9" cy="460.4" r="1.7"/><circle cx="488.7" cy="464.8" r="1.7"/><circle cx="480.4" cy="465.2" r="1.7"/><circle cx="483.5" cy="465.9" r="1.7"/><circle cx="486.5" cy="470.9" r="1.7"/><circle cx="486.0" cy="472.6" r="1.7"/><circle cx="500.3" cy="463.7" r="1.7"/><circle cx="503.7" cy="466.5" r="1.7"/><circle cx="505.9" cy="465.4" r="1.7"/><circle cx="506.2" cy="465.1" r="1.7"/><circle cx="508.1" cy="466.5" r="1.7"/><circle cx="512.5" cy="466.5" r="1.7"/><circle cx="497.6" cy="468.7" r="1.7"/><circle cx="500.9" cy="472.0" r="1.7"/><circle cx="509.7" cy="471.8" r="1.7"/><circle cx="510.0" cy="471.5" r="1.7"/><circle cx="523.0" cy="471.8" r="1.7"/><circle cx="503.1" cy="475.3" r="1.7"/><circle cx="508.1" cy="475.9" r="1.7"/><circle cx="493.2" cy="478.1" r="1.7"/><circle cx="495.9" cy="476.4" r="1.7"/><circle cx="485.4" cy="478.1" r="1.7"/><circle cx="506.4" cy="480.3" r="1.7"/><circle cx="510.3" cy="478.7" r="1.7"/><circle cx="495.9" cy="485.8" r="1.7"/><circle cx="499.8" cy="492.5" r="1.7"/><circle cx="468.3" cy="487.0" r="1.7"/><circle cx="465.5" cy="487.5" r="1.7"/><circle cx="473.2" cy="489.7" r="1.7"/><circle cx="471.0" cy="492.8" r="1.7"/><circle cx="477.7" cy="493.6" r="1.7"/><circle cx="485.4" cy="495.2" r="1.7"/><circle cx="467.7" cy="497.5" r="1.7"/><circle cx="468.0" cy="497.2" r="1.7"/><circle cx="516.4" cy="496.9" r="1.7"/><circle cx="519.1" cy="497.5" r="1.7"/><circle cx="543.2" cy="431.7" r="1.7"/><circle cx="544.3" cy="435.5" r="1.7"/><circle cx="549.8" cy="431.7" r="1.7"/><circle cx="552.0" cy="432.8" r="1.7"/><circle cx="554.3" cy="436.1" r="1.7"/><circle cx="559.8" cy="435.0" r="1.7"/><circle cx="557.0" cy="438.8" r="1.7"/><circle cx="569.2" cy="431.1" r="1.7"/><circle cx="569.5" cy="430.8" r="1.7"/><circle cx="569.2" cy="434.4" r="1.7"/><circle cx="573.6" cy="432.8" r="1.7"/><circle cx="570.3" cy="436.6" r="1.7"/><circle cx="576.9" cy="436.1" r="1.7"/><circle cx="572.5" cy="440.0" r="1.7"/><circle cx="575.8" cy="440.0" r="1.7"/><circle cx="583.0" cy="443.3" r="1.7"/><circle cx="528.8" cy="440.5" r="1.7"/><circle cx="534.9" cy="442.2" r="1.7"/><circle cx="529.4" cy="444.9" r="1.7"/><circle cx="532.1" cy="443.8" r="1.7"/><circle cx="532.1" cy="447.1" r="1.7"/><circle cx="537.7" cy="449.4" r="1.7"/><circle cx="542.1" cy="447.7" r="1.7"/><circle cx="545.4" cy="448.2" r="1.7"/><circle cx="547.1" cy="449.9" r="1.7"/><circle cx="547.4" cy="449.6" r="1.7"/><circle cx="551.5" cy="442.2" r="1.7"/><circle cx="557.0" cy="442.7" r="1.7"/><circle cx="551.5" cy="446.6" r="1.7"/><circle cx="553.2" cy="445.5" r="1.7"/><circle cx="555.9" cy="447.1" r="1.7"/><circle cx="554.8" cy="449.9" r="1.7"/><circle cx="552.6" cy="452.7" r="1.7"/><circle cx="547.1" cy="452.7" r="1.7"/><circle cx="547.1" cy="455.4" r="1.7"/><circle cx="547.4" cy="455.1" r="1.7"/><circle cx="548.2" cy="456.5" r="1.7"/><circle cx="552.0" cy="459.9" r="1.7"/><circle cx="559.2" cy="456.3" r="1.7"/><circle cx="537.7" cy="456.5" r="1.7"/><circle cx="538.0" cy="456.2" r="1.7"/><circle cx="534.9" cy="457.6" r="1.7"/><circle cx="541.0" cy="461.0" r="1.7"/><circle cx="531.0" cy="464.8" r="1.7"/><circle cx="525.5" cy="469.3" r="1.7"/><circle cx="528.8" cy="470.4" r="1.7"/><circle cx="529.4" cy="473.1" r="1.7"/><circle cx="533.8" cy="471.5" r="1.7"/><circle cx="559.2" cy="470.0" r="1.7"/><circle cx="531.6" cy="478.7" r="1.7"/><circle cx="534.4" cy="486.6" r="1.7"/><circle cx="548.7" cy="495.5" r="1.7"/><circle cx="571.4" cy="499.7" r="1.7"/><circle cx="586.6" cy="475.3" r="1.7"/><circle cx="586.6" cy="485.5" r="1.7"/><circle cx="589.9" cy="431.7" r="1.7"/><circle cx="614.8" cy="434.6" r="1.7"/><circle cx="587.7" cy="443.0" r="1.7"/><circle cx="599.5" cy="441.1" r="1.7"/><circle cx="509.3" cy="411.4" r="1.7"/><circle cx="546.9" cy="414.7" r="1.7"/><circle cx="595.7" cy="380.5" r="1.7"/><circle cx="600.3" cy="383.6" r="1.7"/><circle cx="606.4" cy="384.6" r="1.7"/><circle cx="590.1" cy="387.2" r="1.7"/><circle cx="598.8" cy="387.2" r="1.7"/><circle cx="573.5" cy="393.0" r="1.7"/><circle cx="557.9" cy="398.4" r="1.7"/><circle cx="591.1" cy="398.9" r="1.7"/><circle cx="600.8" cy="392.8" r="1.7"/><circle cx="601.3" cy="396.9" r="1.7"/><circle cx="607.4" cy="394.8" r="1.7"/><circle cx="600.3" cy="401.5" r="1.7"/><circle cx="603.4" cy="399.4" r="1.7"/><circle cx="605.4" cy="401.5" r="1.7"/><circle cx="608.0" cy="399.4" r="1.7"/><circle cx="596.2" cy="402.0" r="1.7"/><circle cx="593.6" cy="405.0" r="1.7"/><circle cx="601.3" cy="405.5" r="1.7"/><circle cx="604.4" cy="405.0" r="1.7"/><circle cx="607.4" cy="404.5" r="1.7"/><circle cx="602.3" cy="409.6" r="1.7"/><circle cx="605.4" cy="408.1" r="1.7"/><circle cx="608.0" cy="409.6" r="1.7"/><circle cx="603.4" cy="413.2" r="1.7"/><circle cx="608.0" cy="415.3" r="1.7"/><circle cx="609.5" cy="423.9" r="1.7"/><circle cx="586.0" cy="404.3" r="1.7"/><circle cx="580.1" cy="405.5" r="1.7"/><circle cx="572.2" cy="406.1" r="1.7"/><circle cx="551.0" cy="407.6" r="1.7"/><circle cx="556.1" cy="409.6" r="1.7"/><circle cx="568.1" cy="411.2" r="1.7"/><circle cx="559.9" cy="413.7" r="1.7"/><circle cx="546.6" cy="414.9" r="1.7"/><circle cx="554.8" cy="416.3" r="1.7"/><circle cx="558.9" cy="417.3" r="1.7"/><circle cx="573.7" cy="415.3" r="1.7"/><circle cx="577.8" cy="414.7" r="1.7"/><circle cx="579.9" cy="414.2" r="1.7"/><circle cx="576.8" cy="418.8" r="1.7"/><circle cx="573.7" cy="420.9" r="1.7"/><circle cx="564.5" cy="419.3" r="1.7"/><circle cx="563.5" cy="423.9" r="1.7"/><circle cx="564.5" cy="425.0" r="1.7"/><circle cx="569.6" cy="423.9" r="1.7"/><circle cx="570.1" cy="427.0" r="1.7"/><circle cx="570.4" cy="426.7" r="1.7"/><circle cx="571.7" cy="428.0" r="1.7"/><circle cx="574.7" cy="426.0" r="1.7"/><circle cx="578.8" cy="426.8" r="1.7"/><circle cx="581.9" cy="421.4" r="1.7"/><circle cx="585.0" cy="419.9" r="1.7"/><circle cx="583.9" cy="422.9" r="1.7"/><circle cx="588.0" cy="423.4" r="1.7"/><circle cx="590.1" cy="423.9" r="1.7"/><circle cx="593.1" cy="424.5" r="1.7"/><circle cx="587.0" cy="427.0" r="1.7"/><circle cx="590.1" cy="431.6" r="1.7"/><circle cx="570.1" cy="436.2" r="1.7"/><circle cx="576.8" cy="436.2" r="1.7"/><circle cx="559.9" cy="435.2" r="1.7"/><circle cx="546.1" cy="428.5" r="1.7"/><circle cx="549.7" cy="427.8" r="1.7"/><circle cx="552.3" cy="433.1" r="1.7"/><circle cx="544.1" cy="435.7" r="1.7"/><circle cx="547.3" cy="334.0" r="1.7"/><circle cx="530.6" cy="357.4" r="1.7"/><circle cx="588.0" cy="334.9" r="1.7"/><circle cx="602.4" cy="332.0" r="1.7"/><circle cx="580.5" cy="344.5" r="1.7"/><circle cx="591.9" cy="345.1" r="1.7"/><circle cx="606.5" cy="348.0" r="1.7"/><circle cx="574.0" cy="353.9" r="1.7"/><circle cx="591.3" cy="353.9" r="1.7"/><circle cx="585.8" cy="356.4" r="1.7"/><circle cx="582.8" cy="358.8" r="1.7"/><circle cx="591.7" cy="362.3" r="1.7"/><circle cx="573.0" cy="363.0" r="1.7"/><circle cx="569.4" cy="367.6" r="1.7"/><circle cx="581.0" cy="367.9" r="1.7"/><circle cx="590.5" cy="370.6" r="1.7"/><circle cx="598.9" cy="365.9" r="1.7"/><circle cx="603.3" cy="367.1" r="1.7"/><circle cx="605.9" cy="364.1" r="1.7"/><circle cx="608.8" cy="365.0" r="1.7"/><circle cx="582.0" cy="374.9" r="1.7"/><circle cx="579.6" cy="377.6" r="1.7"/><circle cx="599.7" cy="375.8" r="1.7"/><circle cx="608.8" cy="374.3" r="1.7"/><circle cx="517.8" cy="329.9" r="1.7"/><circle cx="630.9" cy="330.2" r="1.7"/><circle cx="639.9" cy="331.4" r="1.7"/><circle cx="638.3" cy="336.5" r="1.7"/><circle cx="640.7" cy="338.0" r="1.7"/><circle cx="644.5" cy="339.8" r="1.7"/><circle cx="647.6" cy="338.0" r="1.7"/><circle cx="648.5" cy="343.3" r="1.7"/><circle cx="654.5" cy="345.7" r="1.7"/><circle cx="659.0" cy="342.5" r="1.7"/><circle cx="663.1" cy="338.6" r="1.7"/><circle cx="663.2" cy="344.9" r="1.7"/><circle cx="658.1" cy="350.5" r="1.7"/><circle cx="671.8" cy="352.6" r="1.7"/><circle cx="614.4" cy="348.1" r="1.7"/><circle cx="615.3" cy="357.3" r="1.7"/><circle cx="633.9" cy="358.1" r="1.7"/><circle cx="655.1" cy="358.5" r="1.7"/><circle cx="643.5" cy="362.7" r="1.7"/><circle cx="618.6" cy="364.9" r="1.7"/><circle cx="613.2" cy="368.5" r="1.7"/><circle cx="614.4" cy="371.5" r="1.7"/><circle cx="616.2" cy="372.7" r="1.7"/><circle cx="628.5" cy="365.5" r="1.7"/><circle cx="629.9" cy="367.9" r="1.7"/><circle cx="632.9" cy="367.3" r="1.7"/><circle cx="631.1" cy="369.7" r="1.7"/><circle cx="629.9" cy="371.5" r="1.7"/><circle cx="632.3" cy="371.5" r="1.7"/><circle cx="622.7" cy="376.0" r="1.7"/><circle cx="627.5" cy="375.7" r="1.7"/><circle cx="632.3" cy="375.1" r="1.7"/><circle cx="634.7" cy="374.5" r="1.7"/><circle cx="637.1" cy="374.8" r="1.7"/><circle cx="640.7" cy="374.8" r="1.7"/><circle cx="641.3" cy="380.5" r="1.7"/><circle cx="641.3" cy="385.2" r="1.7"/><circle cx="620.9" cy="381.0" r="1.7"/><circle cx="619.8" cy="382.8" r="1.7"/><circle cx="617.4" cy="384.6" r="1.7"/><circle cx="618.6" cy="387.6" r="1.7"/><circle cx="626.9" cy="381.6" r="1.7"/><circle cx="625.7" cy="384.6" r="1.7"/><circle cx="629.3" cy="383.4" r="1.7"/><circle cx="633.5" cy="384.6" r="1.7"/><circle cx="634.7" cy="381.6" r="1.7"/><circle cx="637.1" cy="383.4" r="1.7"/><circle cx="638.3" cy="387.0" r="1.7"/><circle cx="629.9" cy="388.2" r="1.7"/><circle cx="633.5" cy="387.0" r="1.7"/><circle cx="628.7" cy="384.8" r="1.7"/><circle cx="623.9" cy="387.8" r="1.7"/><circle cx="627.5" cy="388.4" r="1.7"/><circle cx="640.7" cy="389.0" r="1.7"/><circle cx="631.7" cy="391.7" r="1.7"/><circle cx="629.9" cy="393.8" r="1.7"/><circle cx="614.4" cy="392.0" r="1.7"/><circle cx="616.2" cy="394.4" r="1.7"/><circle cx="612.6" cy="395.0" r="1.7"/><circle cx="622.1" cy="395.6" r="1.7"/><circle cx="609.6" cy="396.8" r="1.7"/><circle cx="607.8" cy="395.0" r="1.7"/><circle cx="601.2" cy="392.6" r="1.7"/><circle cx="603.0" cy="396.2" r="1.7"/><circle cx="600.6" cy="399.8" r="1.7"/><circle cx="609.6" cy="402.7" r="1.7"/><circle cx="603.6" cy="403.9" r="1.7"/><circle cx="601.2" cy="406.9" r="1.7"/><circle cx="610.8" cy="407.5" r="1.7"/><circle cx="612.6" cy="410.5" r="1.7"/><circle cx="603.0" cy="411.1" r="1.7"/><circle cx="608.4" cy="411.7" r="1.7"/><circle cx="603.6" cy="413.5" r="1.7"/><circle cx="611.4" cy="412.9" r="1.7"/><circle cx="616.8" cy="404.5" r="1.7"/><circle cx="617.4" cy="402.7" r="1.7"/><circle cx="620.3" cy="401.5" r="1.7"/><circle cx="624.5" cy="401.9" r="1.7"/><circle cx="634.7" cy="403.9" r="1.7"/><circle cx="635.1" cy="408.1" r="1.7"/><circle cx="620.9" cy="413.8" r="1.7"/><circle cx="626.9" cy="415.6" r="1.7"/><circle cx="619.8" cy="418.5" r="1.7"/><circle cx="620.1" cy="418.2" r="1.7"/><circle cx="612.6" cy="421.3" r="1.7"/><circle cx="610.8" cy="424.1" r="1.7"/><circle cx="615.0" cy="434.5" r="1.7"/><circle cx="554.4" cy="435.9" r="1.7"/><circle cx="556.9" cy="438.9" r="1.7"/><circle cx="551.3" cy="442.5" r="1.7"/><circle cx="556.9" cy="442.5" r="1.7"/><circle cx="585.5" cy="507.7" r="1.7"/><circle cx="597.0" cy="510.4" r="1.7"/><circle cx="572.3" cy="503.2" r="1.7"/><circle cx="561.1" cy="521.0" r="1.7"/><circle cx="556.6" cy="528.5" r="1.7"/><circle cx="549.7" cy="534.3" r="1.7"/><circle cx="532.4" cy="519.2" r="1.7"/><circle cx="531.3" cy="521.8" r="1.7"/><circle cx="522.1" cy="503.2" r="1.7"/><circle cx="603.0" cy="405.2" r="1.7"/><circle cx="605.6" cy="403.7" r="1.7"/><circle cx="606.4" cy="400.3" r="1.7"/><circle cx="610.9" cy="396.6" r="1.7"/></g><rect x="394.6" y="320.3" width="287.80" height="253.90" fill="none" stroke="#858585" stroke-width="1.5"/><line x1="396.80" y1="574.2" x2="396.80" y2="579.40" stroke="#666" stroke-width="1.2"/><text transform="translate(396.80,595.2) scale(0.9,1)" font-size="10.1" text-anchor="middle" letter-spacing="0.4" fill="#2a2a2a" stroke="#2a2a2a" stroke-width="0.25">200</text><line x1="451.40" y1="574.2" x2="451.40" y2="579.40" stroke="#666" stroke-width="1.2"/><text transform="translate(451.40,595.2) scale(0.9,1)" font-size="10.1" text-anchor="middle" letter-spacing="0.4" fill="#2a2a2a" stroke="#2a2a2a" stroke-width="0.25">250</text><line x1="506.00" y1="574.2" x2="506.00" y2="579.40" stroke="#666" stroke-width="1.2"/><text transform="translate(506.00,595.2) scale(0.9,1)" font-size="10.1" text-anchor="middle" letter-spacing="0.4" fill="#2a2a2a" stroke="#2a2a2a" stroke-width="0.25">300</text><line x1="560.60" y1="574.2" x2="560.60" y2="579.40" stroke="#666" stroke-width="1.2"/><text transform="translate(560.60,595.2) scale(0.9,1)" font-size="10.1" text-anchor="middle" letter-spacing="0.4" fill="#2a2a2a" stroke="#2a2a2a" stroke-width="0.25">350</text><line x1="615.20" y1="574.2" x2="615.20" y2="579.40" stroke="#666" stroke-width="1.2"/><text transform="translate(615.20,595.2) scale(0.9,1)" font-size="10.1" text-anchor="middle" letter-spacing="0.4" fill="#2a2a2a" stroke="#2a2a2a" stroke-width="0.25">400</text><line x1="669.80" y1="574.2" x2="669.80" y2="579.40" stroke="#666" stroke-width="1.2"/><text transform="translate(669.80,595.2) scale(0.9,1)" font-size="10.1" text-anchor="middle" letter-spacing="0.4" fill="#2a2a2a" stroke="#2a2a2a" stroke-width="0.25">450</text><line x1="389.20" y1="556.20" x2="394.6" y2="556.20" stroke="#666" stroke-width="1.2"/><text transform="translate(382.1,556.20) rotate(-90) scale(0.9,1)" font-size="10.1" text-anchor="middle" letter-spacing="0.4" fill="#2a2a2a" stroke="#2a2a2a" stroke-width="0.25">200</text><line x1="389.20" y1="516.06" x2="394.6" y2="516.06" stroke="#666" stroke-width="1.2"/><text transform="translate(382.1,516.06) rotate(-90) scale(0.9,1)" font-size="10.1" text-anchor="middle" letter-spacing="0.4" fill="#2a2a2a" stroke="#2a2a2a" stroke-width="0.25">250</text><line x1="389.20" y1="475.92" x2="394.6" y2="475.92" stroke="#666" stroke-width="1.2"/><text transform="translate(382.1,475.92) rotate(-90) scale(0.9,1)" font-size="10.1" text-anchor="middle" letter-spacing="0.4" fill="#2a2a2a" stroke="#2a2a2a" stroke-width="0.25">300</text><line x1="389.20" y1="435.78" x2="394.6" y2="435.78" stroke="#666" stroke-width="1.2"/><text transform="translate(382.1,435.78) rotate(-90) scale(0.9,1)" font-size="10.1" text-anchor="middle" letter-spacing="0.4" fill="#2a2a2a" stroke="#2a2a2a" stroke-width="0.25">350</text><line x1="389.20" y1="395.64" x2="394.6" y2="395.64" stroke="#666" stroke-width="1.2"/><text transform="translate(382.1,395.64) rotate(-90) scale(0.9,1)" font-size="10.1" text-anchor="middle" letter-spacing="0.4" fill="#2a2a2a" stroke="#2a2a2a" stroke-width="0.25">400</text><line x1="389.20" y1="355.50" x2="394.6" y2="355.50" stroke="#666" stroke-width="1.2"/><text transform="translate(382.1,355.50) rotate(-90) scale(0.9,1)" font-size="10.1" text-anchor="middle" letter-spacing="0.4" fill="#2a2a2a" stroke="#2a2a2a" stroke-width="0.25">450</text></g>
<g><text transform="translate(6.92,18.66) scale(0.7826,0.9551)" font-size="22.5" stroke="#111" stroke-width="0.35" fill="#111">a</text><text transform="translate(19.60,18.05) scale(0.7826,1.0000)" font-size="22.5" stroke="#111" stroke-width="0.35" fill="#111">)</text><text transform="translate(61.09,30.10) scale(0.8842,1)" font-size="16" fill="#5b9bd5">R</text><text transform="translate(71.54,24.20) scale(1.1111,1)" font-size="10" fill="#5b9bd5">2</text><text transform="translate(82.25,30.10) scale(1.0065,1)" font-size="16" fill="#5b9bd5">=</text><text transform="translate(96.18,30.10) scale(1.0992,1)" font-size="16" fill="#5b9bd5">0.98</text><text transform="translate(61.02,53.40) scale(0.9446,1)" font-size="16" fill="#ed7d31">RMSE</text><text transform="translate(110.43,53.40) scale(1.0323,1)" font-size="16" fill="#ed7d31">=</text><text transform="translate(124.22,53.40) scale(1.1079,1)" font-size="16" fill="#ed7d31">17.46</text><text transform="translate(60.91,76.50) scale(1.0290,1)" font-size="16" fill="#e3c22a">MAE</text><text transform="translate(102.43,76.50) scale(1.0323,1)" font-size="16" fill="#e3c22a">=</text><text transform="translate(116.24,76.50) scale(1.0895,1)" font-size="16" fill="#e3c22a">12.23</text><text transform="translate(277.85,241.00) scale(0.9865,1)" font-size="19.2" font-weight="bold" fill="#4472c4">Train</text><text transform="translate(136.30,292.50) scale(0.9970,1)" font-size="15" stroke="#111" stroke-width="0.25" fill="#111">Δh</text><text transform="translate(153.73,296.00) scale(1.1301,1)" font-size="9.5" stroke="#111" stroke-width="0.3" fill="#111">o,pred</text><text transform="translate(185.99,292.50) scale(1.0107,1)" font-size="15" stroke="#111" stroke-width="0.25" fill="#111">(kJ/mol)</text><text transform="translate(15.20,204.50) rotate(-90) scale(0.9970,1)" font-size="15" stroke="#111" stroke-width="0.25" fill="#111">Δh</text><text transform="translate(18.90,187.01) rotate(-90) scale(1.0105,1)" font-size="9.5" stroke="#111" stroke-width="0.3" fill="#111">o, data</text><text transform="translate(15.20,154.81) rotate(-90) scale(1.0107,1)" font-size="15" stroke="#111" stroke-width="0.25" fill="#111">(kJ/mol)</text><text transform="translate(350.07,19.65) scale(1.0200,1.0061)" font-size="22.5" stroke="#111" stroke-width="0.35" fill="#111">b</text><text transform="translate(363.80,19.20) scale(0.7826,0.9905)" font-size="22.5" stroke="#111" stroke-width="0.35" fill="#111">)</text><text transform="translate(407.29,25.70) scale(0.8842,1)" font-size="16" fill="#5b9bd5">R</text><text transform="translate(417.74,19.80) scale(1.1111,1)" font-size="10" fill="#5b9bd5">2</text><text transform="translate(428.45,25.70) scale(1.0065,1)" font-size="16" fill="#5b9bd5">=</text><text transform="translate(442.39,25.70) scale(1.0833,1)" font-size="16" fill="#5b9bd5">0.84</text><text transform="translate(407.22,48.90) scale(0.9446,1)" font-size="16" fill="#ed7d31">RMSE</text><text transform="translate(456.63,48.90) scale(1.0323,1)" font-size="16" fill="#ed7d31">=</text><text transform="translate(471.52,48.90) scale(1.1026,1)" font-size="16" fill="#ed7d31">41.46</text><text transform="translate(407.11,71.70) scale(1.0290,1)" font-size="16" fill="#e3c22a">MAE</text><text transform="translate(448.63,71.70) scale(1.0323,1)" font-size="16" fill="#e3c22a">=</text><text transform="translate(462.98,71.70) scale(1.0961,1)" font-size="16" fill="#e3c22a">29.85</text><text transform="translate(635.26,240.90) scale(0.9573,1)" font-size="19.2" font-weight="bold" fill="#4472c4">Test</text><text transform="translate(498.70,290.00) scale(0.9970,1)" font-size="15" stroke="#111" stroke-width="0.25" fill="#111">Δh</text><text transform="translate(516.13,293.50) scale(1.1301,1)" font-size="9.5" stroke="#111" stroke-width="0.3" fill="#111">o,pred</text><text transform="translate(548.39,290.00) scale(1.0107,1)" font-size="15" stroke="#111" stroke-width="0.25" fill="#111">(kJ/mol)</text><text transform="translate(354.80,203.10) rotate(-90) scale(0.9970,1)" font-size="15" stroke="#111" stroke-width="0.25" fill="#111">Δh</text><text transform="translate(358.50,185.61) rotate(-90) scale(1.0105,1)" font-size="9.5" stroke="#111" stroke-width="0.3" fill="#111">o, data</text><text transform="translate(354.80,153.41) rotate(-90) scale(1.0107,1)" font-size="15" stroke="#111" stroke-width="0.25" fill="#111">(kJ/mol)</text><text transform="translate(17.27,331.66) scale(0.9263,0.9796)" font-size="22.5" stroke="#111" stroke-width="0.35" fill="#111">c</text><text transform="translate(28.60,330.85) scale(0.8000,1.0000)" font-size="22.5" stroke="#111" stroke-width="0.35" fill="#111">)</text><text transform="translate(60.89,345.70) scale(0.8842,1)" font-size="16" fill="#5b9bd5">R</text><text transform="translate(71.34,339.80) scale(1.1111,1)" font-size="10" fill="#5b9bd5">2</text><text transform="translate(82.05,345.70) scale(1.0065,1)" font-size="16" fill="#5b9bd5">=</text><text transform="translate(95.97,345.70) scale(1.1085,1)" font-size="16" fill="#5b9bd5">0.97</text><text transform="translate(60.82,368.50) scale(0.9446,1)" font-size="16" fill="#ed7d31">RMSE</text><text transform="translate(110.23,368.50) scale(1.0323,1)" font-size="16" fill="#ed7d31">=</text><text transform="translate(124.59,368.50) scale(1.0831,1)" font-size="16" fill="#ed7d31">24.03</text><text transform="translate(60.71,392.10) scale(1.0290,1)" font-size="16" fill="#e3c22a">MAE</text><text transform="translate(102.23,392.10) scale(1.0323,1)" font-size="16" fill="#e3c22a">=</text><text transform="translate(116.03,392.10) scale(1.1000,1)" font-size="16" fill="#e3c22a">15.81</text><text transform="translate(279.75,560.50) scale(0.9955,1)" font-size="19.2" font-weight="bold" fill="#4472c4">Train</text><text transform="translate(141.50,622.50) scale(0.9970,1)" font-size="15" stroke="#111" stroke-width="0.25" fill="#111">Δh</text><text transform="translate(158.93,626.00) scale(1.1301,1)" font-size="9.5" stroke="#111" stroke-width="0.3" fill="#111">o,pred</text><text transform="translate(191.19,622.50) scale(1.0107,1)" font-size="15" stroke="#111" stroke-width="0.25" fill="#111">(kJ/mol)</text><text transform="translate(17.10,506.40) rotate(-90) scale(0.9970,1)" font-size="15" stroke="#111" stroke-width="0.25" fill="#111">Δh</text><text transform="translate(20.80,488.91) rotate(-90) scale(1.0105,1)" font-size="9.5" stroke="#111" stroke-width="0.3" fill="#111">o, data</text><text transform="translate(17.10,456.71) rotate(-90) scale(1.0107,1)" font-size="15" stroke="#111" stroke-width="0.25" fill="#111">(kJ/mol)</text><text transform="translate(355.53,329.25) scale(0.9700,0.9939)" font-size="22.5" stroke="#111" stroke-width="0.35" fill="#111">d</text><text transform="translate(369.60,328.68) scale(0.7826,1.0143)" font-size="22.5" stroke="#111" stroke-width="0.35" fill="#111">)</text><text transform="translate(405.69,343.60) scale(0.8842,1)" font-size="16" fill="#5b9bd5">R</text><text transform="translate(416.14,337.70) scale(1.1111,1)" font-size="10" fill="#5b9bd5">2</text><text transform="translate(426.85,343.60) scale(1.0065,1)" font-size="16" fill="#5b9bd5">=</text><text transform="translate(440.79,343.60) scale(1.0790,1)" font-size="16" fill="#5b9bd5">0.83</text><text transform="translate(405.62,366.40) scale(0.9446,1)" font-size="16" fill="#ed7d31">RMSE</text><text transform="translate(455.03,366.40) scale(1.0323,1)" font-size="16" fill="#ed7d31">=</text><text transform="translate(469.39,366.40) scale(1.0761,1)" font-size="16" fill="#ed7d31">34.84</text><text transform="translate(405.51,389.70) scale(1.0290,1)" font-size="16" fill="#e3c22a">MAE</text><text transform="translate(447.03,389.70) scale(1.0323,1)" font-size="16" fill="#e3c22a">=</text><text transform="translate(461.39,389.70) scale(1.0857,1)" font-size="16" fill="#e3c22a">24.26</text><text transform="translate(637.76,560.70) scale(0.9493,1)" font-size="19.2" font-weight="bold" fill="#4472c4">Test</text><text transform="translate(483.80,626.00) scale(0.9970,1)" font-size="15" stroke="#111" stroke-width="0.25" fill="#111">Δh</text><text transform="translate(501.23,629.50) scale(1.1301,1)" font-size="9.5" stroke="#111" stroke-width="0.3" fill="#111">o,pred</text><text transform="translate(533.49,626.00) scale(1.0107,1)" font-size="15" stroke="#111" stroke-width="0.25" fill="#111">(kJ/mol)</text><text transform="translate(359.90,506.10) rotate(-90) scale(0.9970,1)" font-size="15" stroke="#111" stroke-width="0.25" fill="#111">Δh</text><text transform="translate(363.60,488.61) rotate(-90) scale(1.0105,1)" font-size="9.5" stroke="#111" stroke-width="0.3" fill="#111">o, data</text><text transform="translate(359.90,456.41) rotate(-90) scale(1.0107,1)" font-size="15" stroke="#111" stroke-width="0.25" fill="#111">(kJ/mol)</text></g>
</svg>
</body></html>
